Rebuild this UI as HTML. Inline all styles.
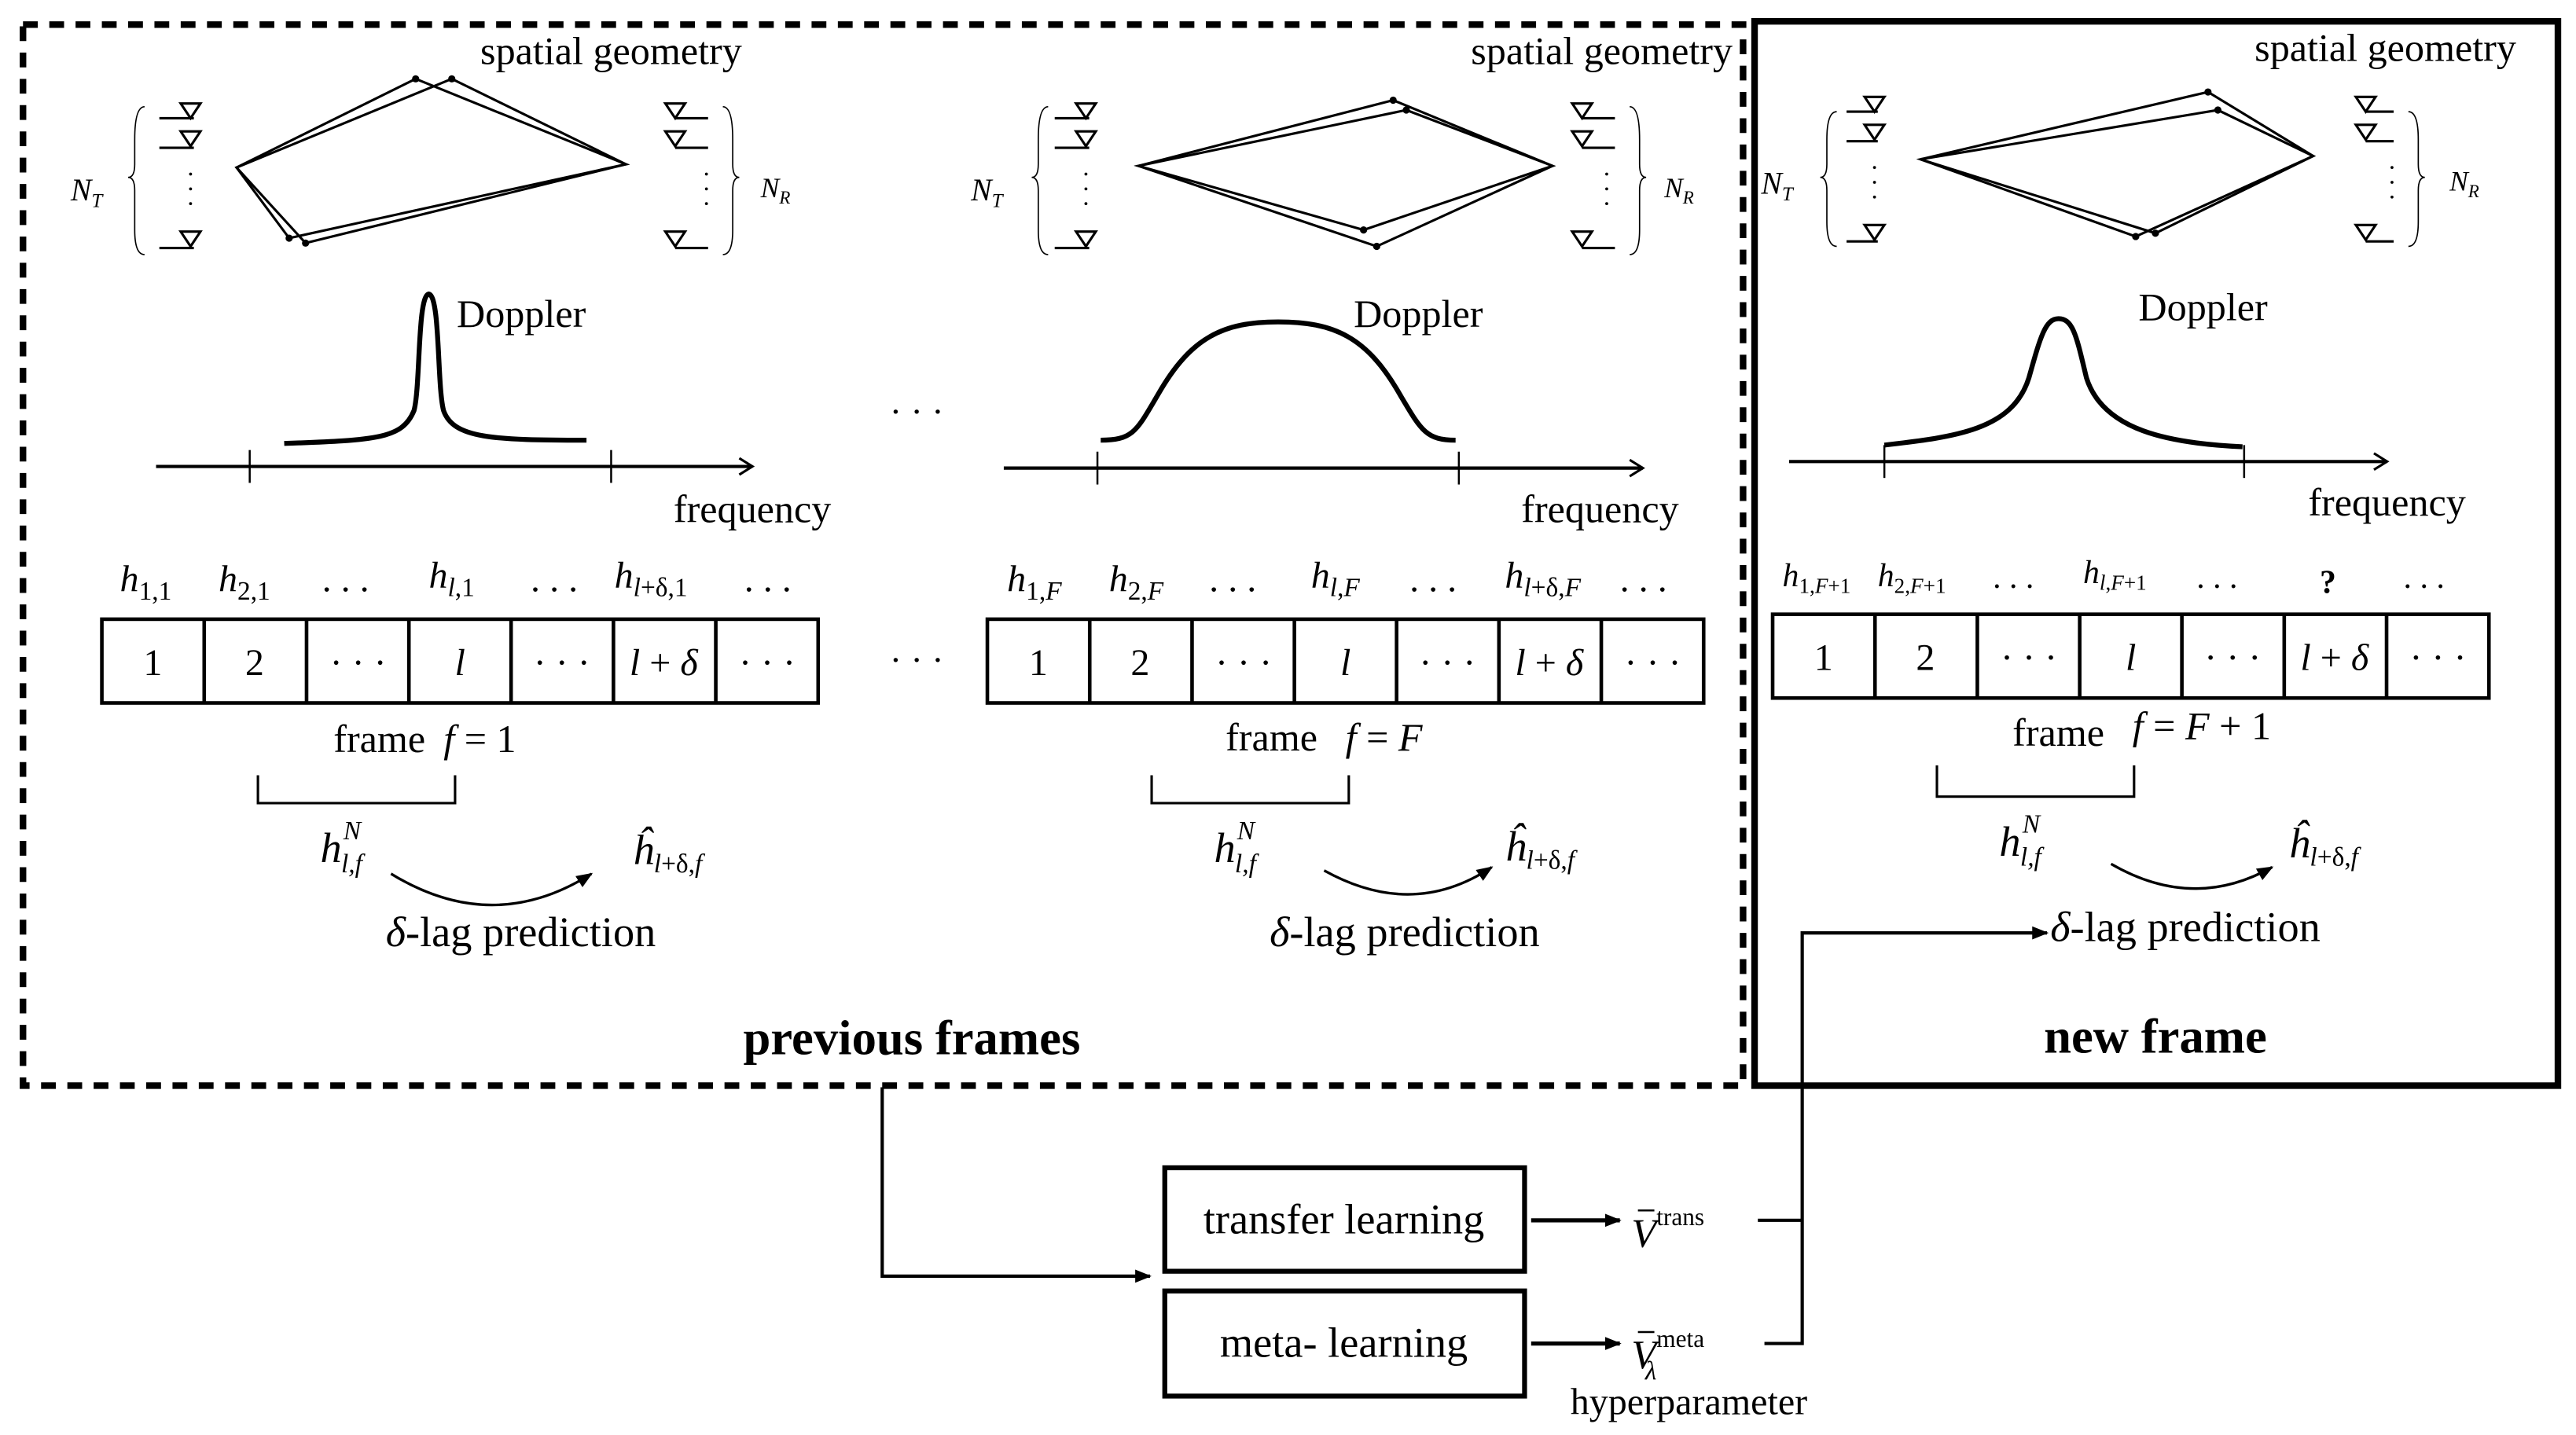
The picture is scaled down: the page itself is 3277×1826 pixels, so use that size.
<!DOCTYPE html>
<html><head><meta charset="utf-8"><style>
html,body{margin:0;padding:0;background:#fff;}
svg{display:block;}
text{font-family:"Liberation Serif",serif;fill:#000;}
.i{font-style:italic;}
.b{font-weight:bold;}
</style></head><body>
<svg width="3277" height="1826" viewBox="0 0 1568 873.7" preserveAspectRatio="none" xmlns="http://www.w3.org/2000/svg">
<defs>
<marker id="ah" markerWidth="10" markerHeight="10" refX="9" refY="5" orient="auto" markerUnits="userSpaceOnUse"><path d="M0,1 L10,5 L0,9 Z" fill="#000"/></marker>
<marker id="ao" markerWidth="12" markerHeight="12" refX="10" refY="6" orient="auto" markerUnits="userSpaceOnUse"><path d="M2,1 L10,6 L2,11" fill="none" stroke="#000" stroke-width="1.5"/></marker>
</defs>
<rect x="0" y="0" width="1568" height="874" fill="#fff"/>
<rect x="14" y="15" width="1047" height="646" fill="none" stroke="#000" stroke-width="4" stroke-dasharray="9,7"/>
<rect x="1068" y="13" width="489" height="648" fill="none" stroke="#000" stroke-width="4"/>

<!-- ================= PANEL 1 ================= -->
<text x="372" y="39" font-size="24" text-anchor="middle">spatial geometry</text>
<g fill="none" stroke="#000" stroke-width="1.5">
<path d="M144,102 L253,48 L381,100 L186,148 Z"/>
<path d="M144,102 L275,48 L381,100 L176,145 Z"/>
<path d="M110,63 L122,63 L116,72 Z M97,72 L118,72"/>
<path d="M110,80 L122,80 L116,89 Z M97,90 L118,90"/>
<path d="M110,141 L122,141 L116,150 Z M97,151 L118,151"/>
<path d="M88,65 Q82,65 82,85 L82,100 Q82,108 78,108 Q82,108 82,116 L82,140 Q82,155 88,155" stroke-width="0.8"/>
<path d="M405,63 L417,63 L411,72 Z M411,72 L431,72"/>
<path d="M405,80 L417,80 L411,89 Z M411,90 L431,90"/>
<path d="M405,141 L417,141 L411,150 Z M411,151 L431,151"/>
<path d="M440,65 Q446,65 446,85 L446,100 Q446,108 450,108 Q446,108 446,116 L446,140 Q446,155 440,155" stroke-width="0.8"/>
</g>
<g fill="#000"><circle cx="253" cy="48" r="2.2"/><circle cx="275" cy="48" r="2.2"/><circle cx="176" cy="145" r="2.2"/><circle cx="186" cy="148" r="2.2"/>
<circle cx="116" cy="106" r="0.9"/><circle cx="116" cy="115" r="0.9"/><circle cx="116" cy="124" r="0.9"/>
<circle cx="430" cy="106" r="0.9"/><circle cx="430" cy="115" r="0.9"/><circle cx="430" cy="124" r="0.9"/></g>
<text x="43" y="122" font-size="19" class="i">N<tspan font-size="12" dy="4">T</tspan></text>
<text x="463" y="120" font-size="17" class="i">N<tspan font-size="11" dy="4">R</tspan></text>
<text x="278" y="199" font-size="24">Doppler</text>
<path d="M173,270 C230,268 245,267 252,250 C256,235 254,180 261,179 C268,180 266,235 270,250 C276,267 300,268 357,268" fill="none" stroke="#000" stroke-width="3"/>
<line x1="95" y1="284" x2="458" y2="284" stroke="#000" stroke-width="2" marker-end="url(#ao)"/>
<line x1="152" y1="274" x2="152" y2="294" stroke="#000" stroke-width="1.2"/>
<line x1="372" y1="274" x2="372" y2="294" stroke="#000" stroke-width="1.2"/>
<text x="410" y="318" font-size="24">frequency</text>
<g font-size="23" class="i">
<text x="73" y="360">h<tspan font-size="16" dy="5" font-style="normal">1,1</tspan></text>
<text x="133" y="360">h<tspan font-size="16" dy="5" font-style="normal">2,1</tspan></text>
<text x="196" y="360" font-style="normal">. . .</text>
<text x="261" y="358">h<tspan font-size="16" dy="5">l</tspan><tspan font-size="16" font-style="normal">,1</tspan></text>
<text x="323" y="360" font-style="normal">. . .</text>
<text x="374" y="358">h<tspan font-size="16" dy="5">l</tspan><tspan font-size="16" font-style="normal">+δ,1</tspan></text>
<text x="453" y="360" font-style="normal">. . .</text>
</g>
<g fill="none" stroke="#000" stroke-width="2.2">
<rect x="62" y="377" width="436" height="51"/>
<path d="M124.3,377V428 M186.6,377V428 M248.9,377V428 M311.1,377V428 M373.4,377V428 M435.7,377V428"/>
</g>
<g font-size="23" text-anchor="middle">
<text x="93" y="411">1</text><text x="155" y="411">2</text><text x="218" y="411">· · ·</text>
<text x="280" y="411" class="i">l</text><text x="342" y="411">· · ·</text><text x="404" y="411"><tspan class="i">l</tspan> + <tspan class="i">δ</tspan></text><text x="467" y="411">· · ·</text>
</g>
<text x="203" y="458" font-size="24">frame</text>
<text x="270" y="458" font-size="24"><tspan class="i">f</tspan> = 1</text>
<path d="M157,472 V489 H277 V472" fill="none" stroke="#000" stroke-width="1.5"/>
<text x="195" y="525" font-size="26" class="i">h<tspan font-size="16" dx="1" dy="-14">N</tspan><tspan font-size="16" dx="-12" dy="20">l,f</tspan></text>
<path d="M238,532 Q300,570 360,532" fill="none" stroke="#000" stroke-width="1.6" marker-end="url(#ah)"/>
<text x="385" y="526" font-size="26" class="i">ĥ<tspan font-size="16" dy="5">l</tspan><tspan font-size="16" font-style="normal">+δ,</tspan><tspan font-size="16">f</tspan></text>
<text x="317" y="576" font-size="26" text-anchor="middle"><tspan class="i">δ</tspan>-lag prediction</text>
<text x="555" y="642" font-size="30" class="b" text-anchor="middle">previous frames</text>
<text x="558" y="258" font-size="22" text-anchor="middle">· · ·</text>
<text x="558" y="409" font-size="22" text-anchor="middle">· · ·</text>

<!-- ================= PANEL 2 ================= -->
<text x="975" y="39" font-size="24" text-anchor="middle">spatial geometry</text>
<g fill="none" stroke="#000" stroke-width="1.5">
<path d="M693,101 L848,61 L945,101 L830,140 Z"/>
<path d="M693,101 L856,67 L945,101 L838,150 Z"/>
<path d="M655,63 L667,63 L661,72 Z M642,72 L663,72"/>
<path d="M655,80 L667,80 L661,89 Z M642,90 L663,90"/>
<path d="M655,141 L667,141 L661,150 Z M642,151 L663,151"/>
<path d="M638,65 Q632,65 632,85 L632,100 Q632,108 628,108 Q632,108 632,116 L632,140 Q632,155 638,155" stroke-width="0.8"/>
<path d="M957,63 L969,63 L963,72 Z M963,72 L983,72"/>
<path d="M957,80 L969,80 L963,89 Z M963,90 L983,90"/>
<path d="M957,141 L969,141 L963,150 Z M963,151 L983,151"/>
<path d="M992,65 Q998,65 998,85 L998,100 Q998,108 1002,108 Q998,108 998,116 L998,140 Q998,155 992,155" stroke-width="0.8"/>
</g>
<g fill="#000"><circle cx="848" cy="61" r="2.2"/><circle cx="856" cy="67" r="2.2"/><circle cx="830" cy="140" r="2.2"/><circle cx="838" cy="150" r="2.2"/>
<circle cx="661" cy="106" r="0.9"/><circle cx="661" cy="115" r="0.9"/><circle cx="661" cy="124" r="0.9"/>
<circle cx="978" cy="106" r="0.9"/><circle cx="978" cy="115" r="0.9"/><circle cx="978" cy="124" r="0.9"/></g>
<text x="591" y="122" font-size="19" class="i">N<tspan font-size="12" dy="4">T</tspan></text>
<text x="1013" y="120" font-size="17" class="i">N<tspan font-size="11" dy="4">R</tspan></text>
<text x="824" y="199" font-size="24">Doppler</text>
<path d="M670,268 C690,268 692,262 705,240 C725,205 745,196 778,196 C812,196 832,205 852,240 C865,262 868,268 886,268" fill="none" stroke="#000" stroke-width="3"/>
<line x1="611" y1="285" x2="1000" y2="285" stroke="#000" stroke-width="2" marker-end="url(#ao)"/>
<line x1="668" y1="275" x2="668" y2="295" stroke="#000" stroke-width="1.2"/>
<line x1="888" y1="275" x2="888" y2="295" stroke="#000" stroke-width="1.2"/>
<text x="926" y="318" font-size="24">frequency</text>
<g font-size="23" class="i">
<text x="613" y="360">h<tspan font-size="16" dy="5" font-style="normal">1,</tspan><tspan font-size="16">F</tspan></text>
<text x="675" y="360">h<tspan font-size="16" dy="5" font-style="normal">2,</tspan><tspan font-size="16">F</tspan></text>
<text x="736" y="360" font-style="normal">. . .</text>
<text x="798" y="358">h<tspan font-size="16" dy="5">l</tspan><tspan font-size="16" font-style="normal">,</tspan><tspan font-size="16">F</tspan></text>
<text x="858" y="360" font-style="normal">. . .</text>
<text x="916" y="358">h<tspan font-size="16" dy="5">l</tspan><tspan font-size="16" font-style="normal">+δ,</tspan><tspan font-size="16">F</tspan></text>
<text x="986" y="360" font-style="normal">. . .</text>
</g>
<g fill="none" stroke="#000" stroke-width="2.2">
<rect x="601" y="377" width="436" height="51"/>
<path d="M663.3,377V428 M725.6,377V428 M787.9,377V428 M850.1,377V428 M912.4,377V428 M974.7,377V428"/>
</g>
<g font-size="23" text-anchor="middle">
<text x="632" y="411">1</text><text x="694" y="411">2</text><text x="757" y="411">· · ·</text>
<text x="819" y="411" class="i">l</text><text x="881" y="411">· · ·</text><text x="943" y="411"><tspan class="i">l</tspan> + <tspan class="i">δ</tspan></text><text x="1006" y="411">· · ·</text>
</g>
<text x="746" y="457" font-size="24">frame</text>
<text x="819" y="457" font-size="24"><tspan class="i">f</tspan> = <tspan class="i">F</tspan></text>
<path d="M701,472 V489 H821 V472" fill="none" stroke="#000" stroke-width="1.5"/>
<text x="739" y="525" font-size="26" class="i">h<tspan font-size="16" dx="1" dy="-14">N</tspan><tspan font-size="16" dx="-12" dy="20">l,f</tspan></text>
<path d="M806,530 Q860,560 908,528" fill="none" stroke="#000" stroke-width="1.6" marker-end="url(#ah)"/>
<text x="916" y="524" font-size="26" class="i">ĥ<tspan font-size="16" dy="5">l</tspan><tspan font-size="16" font-style="normal">+δ,</tspan><tspan font-size="16">f</tspan></text>
<text x="855" y="576" font-size="26" text-anchor="middle"><tspan class="i">δ</tspan>-lag prediction</text>

<!-- ================= PANEL 3 ================= -->
<text x="1452" y="37" font-size="24" text-anchor="middle">spatial geometry</text>
<g fill="none" stroke="#000" stroke-width="1.5">
<path d="M1169,97 L1344,56 L1408,95 L1300,144 Z"/>
<path d="M1169,97 L1350,67 L1408,95 L1312,142 Z"/>
<path d="M1135,59 L1147,59 L1141,68 Z M1124,68 L1143,68"/>
<path d="M1135,76 L1147,76 L1141,85 Z M1124,86 L1143,86"/>
<path d="M1135,137 L1147,137 L1141,146 Z M1124,147 L1143,147"/>
<path d="M1118,68 Q1112,68 1112,85 L1112,100 Q1112,108 1108,108 Q1112,108 1112,116 L1112,135 Q1112,150 1118,150" stroke-width="0.8"/>
<path d="M1434,59 L1446,59 L1440,68 Z M1440,68 L1457,68"/>
<path d="M1434,76 L1446,76 L1440,85 Z M1440,86 L1457,86"/>
<path d="M1434,137 L1446,137 L1440,146 Z M1440,147 L1457,147"/>
<path d="M1466,68 Q1472,68 1472,85 L1472,100 Q1472,108 1476,108 Q1472,108 1472,116 L1472,135 Q1472,150 1466,150" stroke-width="0.8"/>
</g>
<g fill="#000"><circle cx="1344" cy="56" r="2.2"/><circle cx="1350" cy="67" r="2.2"/><circle cx="1300" cy="144" r="2.2"/><circle cx="1312" cy="142" r="2.2"/>
<circle cx="1141" cy="102" r="0.9"/><circle cx="1141" cy="111" r="0.9"/><circle cx="1141" cy="120" r="0.9"/>
<circle cx="1456" cy="102" r="0.9"/><circle cx="1456" cy="111" r="0.9"/><circle cx="1456" cy="120" r="0.9"/></g>
<text x="1072" y="118" font-size="19" class="i">N<tspan font-size="12" dy="4">T</tspan></text>
<text x="1491" y="116" font-size="17" class="i">N<tspan font-size="11" dy="4">R</tspan></text>
<text x="1341" y="195" font-size="24" text-anchor="middle">Doppler</text>
<path d="M1147,271 C1190,266 1225,262 1235,230 C1242,205 1245,194 1253,194 C1262,194 1264,205 1270,230 C1280,262 1320,270 1365,272" fill="none" stroke="#000" stroke-width="3"/>
<line x1="1089" y1="281" x2="1453" y2="281" stroke="#000" stroke-width="2" marker-end="url(#ao)"/>
<line x1="1147" y1="271" x2="1147" y2="291" stroke="#000" stroke-width="1.2"/>
<line x1="1366" y1="271" x2="1366" y2="291" stroke="#000" stroke-width="1.2"/>
<text x="1405" y="314" font-size="24">frequency</text>
<g font-size="20" class="i">
<text x="1085" y="357">h<tspan font-size="13" dy="4" font-style="normal">1,</tspan><tspan font-size="13">F</tspan><tspan font-size="13" font-style="normal">+1</tspan></text>
<text x="1143" y="357">h<tspan font-size="13" dy="4" font-style="normal">2,</tspan><tspan font-size="13">F</tspan><tspan font-size="13" font-style="normal">+1</tspan></text>
<text x="1213" y="358" font-style="normal">. . .</text>
<text x="1268" y="355">h<tspan font-size="13" dy="4">l</tspan><tspan font-size="13" font-style="normal">,</tspan><tspan font-size="13">F</tspan><tspan font-size="13" font-style="normal">+1</tspan></text>
<text x="1337" y="358" font-style="normal">. . .</text>
<text x="1417" y="361" font-style="normal" font-weight="bold" text-anchor="middle" font-family="Liberation Sans, sans-serif">?</text>
<text x="1463" y="358" font-style="normal">. . .</text>
</g>
<g fill="none" stroke="#000" stroke-width="2.2">
<rect x="1079" y="374" width="436" height="51"/>
<path d="M1141.3,374V425 M1203.6,374V425 M1265.9,374V425 M1328.1,374V425 M1390.4,374V425 M1452.7,374V425"/>
</g>
<g font-size="23" text-anchor="middle">
<text x="1110" y="408">1</text><text x="1172" y="408">2</text><text x="1235" y="408">· · ·</text>
<text x="1297" y="408" class="i">l</text><text x="1359" y="408">· · ·</text><text x="1421" y="408"><tspan class="i">l</tspan> + <tspan class="i">δ</tspan></text><text x="1484" y="408">· · ·</text>
</g>
<text x="1225" y="454" font-size="24">frame</text>
<text x="1298" y="450" font-size="24"><tspan class="i">f</tspan> = <tspan class="i">F</tspan> + 1</text>
<path d="M1179,466 V485 H1299 V466" fill="none" stroke="#000" stroke-width="1.5"/>
<text x="1217" y="521" font-size="26" class="i">h<tspan font-size="16" dx="1" dy="-14">N</tspan><tspan font-size="16" dx="-12" dy="20">l,f</tspan></text>
<path d="M1285,526 Q1335,555 1383,528" fill="none" stroke="#000" stroke-width="1.6" marker-end="url(#ah)"/>
<text x="1393" y="522" font-size="26" class="i">ĥ<tspan font-size="16" dy="5">l</tspan><tspan font-size="16" font-style="normal">+δ,</tspan><tspan font-size="16">f</tspan></text>
<text x="1248" y="573" font-size="26"><tspan class="i">δ</tspan>-lag prediction</text>
<text x="1312" y="641" font-size="30" class="b" text-anchor="middle">new frame</text>

<!-- ================= bottom ================= -->
<path d="M537,662 V777 H700" fill="none" stroke="#000" stroke-width="2" marker-end="url(#ah)"/>
<rect x="709" y="711" width="219" height="63" fill="none" stroke="#000" stroke-width="3"/>
<rect x="709" y="786" width="219" height="64" fill="none" stroke="#000" stroke-width="3"/>
<text x="818" y="751" font-size="26" text-anchor="middle">transfer learning</text>
<text x="818" y="826" font-size="26" text-anchor="middle">meta- learning</text>
<line x1="932" y1="743" x2="986" y2="743" stroke="#000" stroke-width="2.5" marker-end="url(#ah)"/>
<line x1="932" y1="818" x2="986" y2="818" stroke="#000" stroke-width="2.5" marker-end="url(#ah)"/>
<text x="993" y="759" font-size="25" class="i">V<tspan font-size="15" font-style="normal" dy="-13">trans</tspan></text>
<line x1="997" y1="737" x2="1007" y2="737" stroke="#000" stroke-width="1.2"/>
<text x="993" y="833" font-size="25" class="i">V<tspan font-size="15" font-style="normal" dy="-13">meta</tspan><tspan font-size="16" dx="-36" dy="20">λ</tspan></text>
<line x1="997" y1="811" x2="1007" y2="811" stroke="#000" stroke-width="1.2"/>
<text x="1028" y="861" font-size="23" text-anchor="middle">hyperparameter</text>
<path d="M1070,743 H1097 M1074,818 H1097 V568 H1246" fill="none" stroke="#000" stroke-width="2" marker-end="url(#ah)"/>
</svg>
</body></html>
